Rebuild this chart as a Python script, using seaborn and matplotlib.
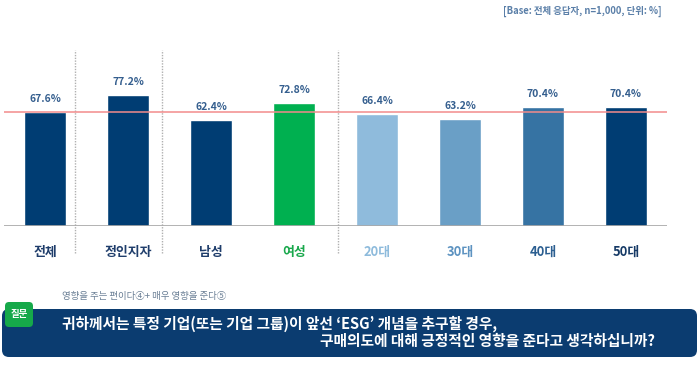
import seaborn as sns
import pandas as pd
import matplotlib.pyplot as plt
from matplotlib.patches import FancyBboxPatch

# chart data
categories = ['전체', '정인지자', '남성', '여성', '20대', '30대', '40대', '50대']
values = [67.6, 77.2, 62.4, 72.8, 66.4, 63.2, 70.4, 70.4]
average = 67.6

bar_colors = ['#003d73', '#003d73', '#003d73', '#00b050',
              '#8fbbdc', '#6a9fc6', '#3673a3', '#003d73']
label_colors = ['#1f3d6b', '#1f3d6b', '#1f3d6b', '#19a84c',
                '#8ebbdc', '#5d93c1', '#2c5f91', '#163a66']

base_note = '[Base: 전체 응답자, n=1,000, 단위: %]'
footnote = '영향을 주는 편이다④+ 매우 영향을 준다⑤'
question_1 = '귀하께서는 특정 기업(또는 기업 그룹)이 앞선 ‘ESG’ 개념을 추구할 경우,'
question_2 = '구매의도에 대해 긍정적인 영향을 준다고 생각하십니까?'

sns.set_style('white')
plt.rcParams['font.family'] = ['Noto Sans CJK KR', 'DejaVu Sans']

df = pd.DataFrame({'group': categories, 'pct': values})

fig = plt.figure(figsize=(7, 3.7), dpi=100)

# background layer in pixel units for the header / question box
bg = fig.add_axes([0, 0, 1, 1], zorder=0)
bg.set_xlim(0, 700)
bg.set_ylim(370, 0)
bg.axis('off')

ax = fig.add_axes([4 / 700, 144 / 370, 663 / 700, 176 / 370], zorder=1)
ax.patch.set_alpha(0)

sns.barplot(data=df, x='group', y='pct', hue='group', palette=bar_colors,
            legend=False, width=0.5, saturation=1, ax=ax)

ax.set_xlim(-0.494, 7.494)
ax.set_ylim(0, 104)
ax.set_xticks([])
ax.set_yticks([])
ax.set_xlabel('')
ax.set_ylabel('')
sns.despine(ax=ax, left=True, top=True, right=True, bottom=True)

# baseline and average line
ax.axhline(0, color='#a6a6a6', lw=1.2, zorder=3)
ax.axhline(average, color='#f28b8b', lw=1.1, zorder=4)

# value labels
for i, v in enumerate(values):
    ax.annotate(f'{v:.1f}%', (i, v), xytext=(0, 9.4), textcoords='offset points',
                ha='center', va='center', fontsize=7.5, fontweight='bold',
                color='#345e8e')

# category labels
xt = ax.get_xaxis_transform()
for i, (c, col) in enumerate(zip(categories, label_colors)):
    ax.text(i, -0.148, c, transform=xt, ha='center', va='center',
            fontsize=9.3, fontweight='bold', color=col)

# dotted dividers between groups
for d in [0.36, 1.41, 3.53]:
    ax.plot([d, d], [-0.155, 1.0], transform=xt, clip_on=False,
            color='#b0b0b0', lw=1, ls=(0, (1, 1)), zorder=2)

# header note
bg.text(662, 11, base_note, ha='right', va='center', fontsize=6.8,
        fontweight='bold', color='#5a7fa8')

# footnote
bg.text(62, 296, footnote, ha='left', va='center', fontsize=6.8,
        color='#6a7f95')

# question box
bg.add_patch(FancyBboxPatch((2, 309), 695, 48,
                            boxstyle='round,pad=0,rounding_size=7',
                            fc='#0b3c70', ec='none'))
bg.add_patch(FancyBboxPatch((5, 302), 28, 25,
                            boxstyle='round,pad=0,rounding_size=4',
                            fc='#16a94a', ec='none'))
bg.text(19, 314.5, '질문', ha='center', va='center', fontsize=6.8,
        fontweight='bold', color='white')
bg.text(62, 324, question_1, ha='left', va='center', fontsize=10.6,
        fontweight='bold', color='white')
bg.text(655, 341, question_2, ha='right', va='center', fontsize=10.6,
        fontweight='bold', color='white')

fig.savefig('out.png', dpi=100)
